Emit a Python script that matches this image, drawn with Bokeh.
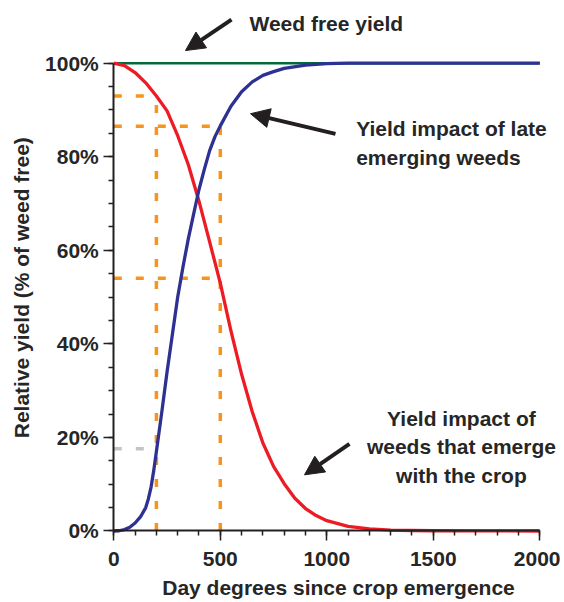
import math
from bokeh.plotting import figure
from bokeh.models import Range1d, FixedTicker, Label, Arrow, NormalHead
from bokeh.embed import file_html
from bokeh.resources import INLINE

# ---- data ----
early_days = [0, 50, 100, 150, 200, 250, 300, 350, 400, 450, 500, 550, 600, 650, 700,
              750, 800, 850, 900, 950, 1000, 1100, 1200, 1300, 1400, 1500, 1700, 2000]
yield_early = [100, 99.5, 98, 95.8, 93, 89.8, 84.5, 78.3, 70.5, 61.8, 53, 42.8, 33.5, 25.5, 18.8,
               13.8, 10.1, 7.0, 4.8, 3.3, 2.2, 1.0, 0.45, 0.2, 0.1, 0.05, 0.02, 0]
late_days = [0, 25, 50, 75, 100, 125, 150, 162.5, 175, 187.5, 200, 225, 250, 275, 300, 325, 350,
             375, 400, 425, 450, 475, 500, 550, 600, 650, 700, 750, 800, 900, 1000, 1100, 2000]
yield_late = [0, 0.05, 0.3, 0.8, 1.7, 3.0, 5.0, 6.9, 9.4, 12.9, 17.0, 25.3, 34, 42, 50, 56.5, 62.5,
              67.8, 73, 77.3, 81.3, 84.3, 86.6, 90.8, 93.9, 96, 97.4, 98.2, 98.9, 99.6, 99.9, 100, 100]
free_days = [0, 2000]
yield_free = [100, 100]

ref_days = [200, 500]
ref_early = [93, 54]
ref_late = [17.6, 86.5]

x_ticks = [0, 500, 1000, 1500, 2000]
x_tick_labels = ["0", "500", "1000", "1500", "2000"]
y_ticks = [0, 20, 40, 60, 80, 100]
y_tick_labels = ["0%", "20%", "40%", "60%", "80%", "100%"]

x_title = "Day degrees since crop emergence"
y_title = "Relative yield (% of weed free)"
note_free = "Weed free yield"
note_late = ["Yield impact of late", "emerging weeds"]
note_early = ["Yield impact of", "weeds that emerge", "with the crop"]

# ---- styles ----
TXT = "#262626"
FONT = "Liberation Sans"
RED = "#ed1c24"
BLUE = "#2e3192"
GREEN = "#00693e"
ORANGE = "#f7941d"
GRAY = "#c4c4c4"
AX = "#231f20"

W, H = 560, 600
# frame fills the canvas; the visible axes sit at fixed data locations
p = figure(width=W, height=H,
           x_range=Range1d(-531.9, 2097.2), y_range=Range1d(-14.86, 113.4),
           output_backend="svg", toolbar_location=None,
           min_border_left=0, min_border_right=0, min_border_top=0, min_border_bottom=0)
p.outline_line_color = None
p.grid.visible = False
p.background_fill_color = "white"
p.border_fill_color = "white"

p.xaxis.fixed_location = 0
p.yaxis.fixed_location = 0
p.xaxis.bounds = (0, 2000)
p.yaxis.bounds = (0, 100)
p.xaxis.ticker = FixedTicker(ticks=x_ticks, minor_ticks=list(range(0, 2001, 100)))
p.xaxis.major_label_overrides = {t: l for t, l in zip(x_ticks, x_tick_labels)}
p.yaxis.ticker = FixedTicker(ticks=y_ticks, minor_ticks=list(range(0, 101, 5)))
p.yaxis.major_label_overrides = {t: l for t, l in zip(y_ticks, y_tick_labels)}
for ax in (p.xaxis, p.yaxis):
    ax.axis_line_width = 2
    ax.axis_line_color = AX
    ax.major_tick_line_color = AX
    ax.minor_tick_line_color = AX
    ax.major_tick_line_width = 1.5
    ax.minor_tick_line_width = 1.5
    ax.major_tick_out = 10
    ax.major_tick_in = 0
    ax.minor_tick_out = 5
    ax.minor_tick_in = 0
    ax.major_label_text_font = FONT
    ax.major_label_text_font_style = "bold"
    ax.major_label_text_font_size = "21px"
    ax.major_label_text_color = TXT
p.xaxis.major_label_standoff = 11
p.yaxis.major_label_standoff = 5

# reference dashed lines
dash = "8 14"
DW = 3.5
p.segment(x0=[0], y0=[ref_early[0]], x1=[ref_days[0]], y1=[ref_early[0]],
          line_color=ORANGE, line_width=DW, line_dash=dash)
p.segment(x0=[0], y0=[ref_late[0]], x1=[ref_days[0]], y1=[ref_late[0]],
          line_color=GRAY, line_width=DW, line_dash=dash)
p.segment(x0=[ref_days[0]], y0=[0], x1=[ref_days[0]], y1=[ref_early[0]],
          line_color=ORANGE, line_width=DW, line_dash=dash)
p.segment(x0=[0, 0], y0=[ref_late[1], ref_early[1]], x1=[ref_days[1], ref_days[1]],
          y1=[ref_late[1], ref_early[1]], line_color=ORANGE, line_width=DW, line_dash=dash)
p.segment(x0=[ref_days[1]], y0=[0], x1=[ref_days[1]], y1=[ref_late[1]],
          line_color=ORANGE, line_width=DW, line_dash=dash)

# curves
p.line(free_days, yield_free, line_color=GREEN, line_width=2.5)
p.line(early_days, yield_early, line_color=RED, line_width=3.3, line_join="round")
p.line(late_days, yield_late, line_color=BLUE, line_width=3.3, line_join="round")

# annotations
def lab(text, x, y, align="left", angle=0.0, baseline="alphabetic"):
    p.add_layout(Label(x=x, y=y, text=text, text_font=FONT, text_font_style="bold",
                       text_font_size="21px", text_color=TXT, text_align=align,
                       text_baseline=baseline, angle=angle))

lab(note_free, 637, 108.4)
lab(note_late[0], 1138, 86.0)
lab(note_late[1], 1138, 79.9)
for i, t in enumerate(note_early):
    lab(t, 1632, 24.0 - 6.03 * i, align="center")

lab(y_title, -433, 52.0, align="center", angle=math.pi / 2, baseline="middle")
lab(x_title, 1055, -12.0, align="center")

def arrow(xs, ys, xe, ye):
    p.add_layout(Arrow(end=NormalHead(size=19, fill_color=AX, line_color=AX),
                       x_start=xs, y_start=ys, x_end=xe, y_end=ye,
                       line_color=AX, line_width=4))

arrow(552.6, 109.3, 336.6, 102.7)
arrow(1040.8, 84.9, 641.8, 89.2)
arrow(1106.6, 18.6, 895.3, 12.0)

open("out.html", "w").write(file_html(p, INLINE))
